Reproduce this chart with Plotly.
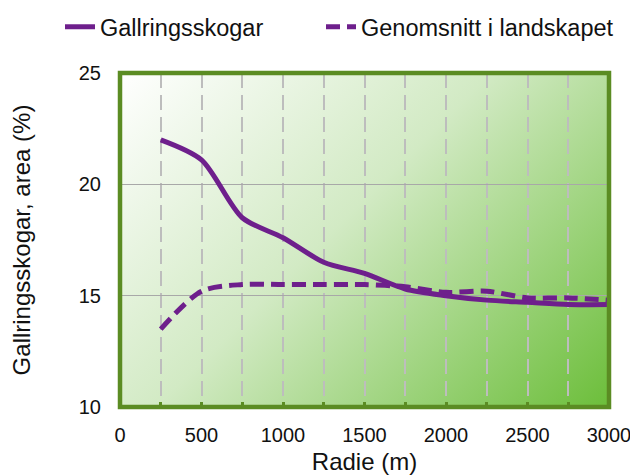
import base64
import plotly.graph_objects as go

radie = [250, 500, 750, 1000, 1250, 1500, 1750, 2000, 2250, 2500, 2750, 3000]
gallring = [22.0, 21.1, 18.5, 17.6, 16.5, 16.0, 15.3, 15.0, 14.8, 14.7, 14.6, 14.6]
landskap = [13.5, 15.2, 15.5, 15.5, 15.5, 15.5, 15.4, 15.15, 15.2, 14.9, 14.9, 14.8]
x_ticks = [0, 500, 1000, 1500, 2000, 2500, 3000]
y_ticks = [10, 15, 20, 25]

PURPLE = "#6E1F8C"
GREEN = "#5B8C23"
FONT = "Liberation Sans, Arial, sans-serif"

svg = ('<svg xmlns="http://www.w3.org/2000/svg" width="488" height="334" viewBox="0 0 488 334" '
       'preserveAspectRatio="none"><defs><linearGradient id="g" gradientUnits="userSpaceOnUse" '
       'x1="0" y1="0" x2="411" y2="411"><stop offset="0" stop-color="#FFFFFF"/>'
       '<stop offset="0.45" stop-color="#D2EAC4"/>'
       '<stop offset="1" stop-color="#6CBE3A"/></linearGradient></defs>'
       '<rect width="488" height="334" fill="url(#g)"/></svg>')
src = "data:image/svg+xml;base64," + base64.b64encode(svg.encode()).decode()

fig = go.Figure()
fig.add_trace(go.Scatter(x=radie, y=gallring, mode="lines", name="Gallringsskogar",
                         legend="legend",
                         line=dict(color=PURPLE, width=5, shape="spline", smoothing=0.8)))
fig.add_trace(go.Scatter(x=radie, y=landskap, mode="lines", name="Genomsnitt i landskapet",
                         legend="legend2",
                         line=dict(color=PURPLE, width=5, shape="spline", smoothing=0.8,
                                   dash="14px,7px")))

legend_common = dict(orientation="h", xref="container", yref="container",
                     xanchor="left", y=0.9895, yanchor="top",
                     font=dict(size=23.5), bgcolor="rgba(0,0,0,0)")

grid_style = dict(gridcolor="#BDBDBD", gridwidth=2, griddash="15px,7px")
fig.update_layout(
    width=630, height=475,
    margin=dict(l=120, r=21, t=73, b=68),
    paper_bgcolor="white", plot_bgcolor="white",
    font=dict(family=FONT, size=20, color="#111111"),
    showlegend=True,
    legend=dict(x=60 / 630, **legend_common),
    legend2=dict(x=321 / 630, **legend_common),
    xaxis=dict(range=[0, 3000], tickvals=x_ticks, showline=False, zeroline=False,
               automargin=False, ticklabeloverflow="allow",
               showgrid=True, **grid_style,
               ticks="inside", ticklen=5, tickwidth=3, tickcolor=GREEN,
               ticklabelstandoff=14,
               minor=dict(dtick=250, tick0=0, showgrid=True, ticks="inside", ticklen=5,
                          tickwidth=3, tickcolor=GREEN, **grid_style),
               title=dict(text="Radie (m)", standoff=12)),
    yaxis=dict(range=[10, 25], tickvals=y_ticks, showline=False, zeroline=False,
               automargin=False,
               showgrid=True, gridcolor="#A8A8A8", gridwidth=1,
               ticks="", ticklabelstandoff=18,
               title=dict(text="Gallringsskogar, area (%)", standoff=41)),
    images=[dict(source=src, xref="paper", yref="paper", x=0, y=1, sizex=1, sizey=1,
                 xanchor="left", yanchor="top", sizing="stretch", layer="below")],
    shapes=[dict(type="rect", xref="paper", yref="paper", x0=0, x1=1, y0=0, y1=1,
                 line=dict(color=GREEN, width=4.5), layer="above")],
)

fig.write_html("out.html", config={"displayModeBar": False},
               post_script="document.body.style.margin='0';document.body.style.overflow='hidden';")
